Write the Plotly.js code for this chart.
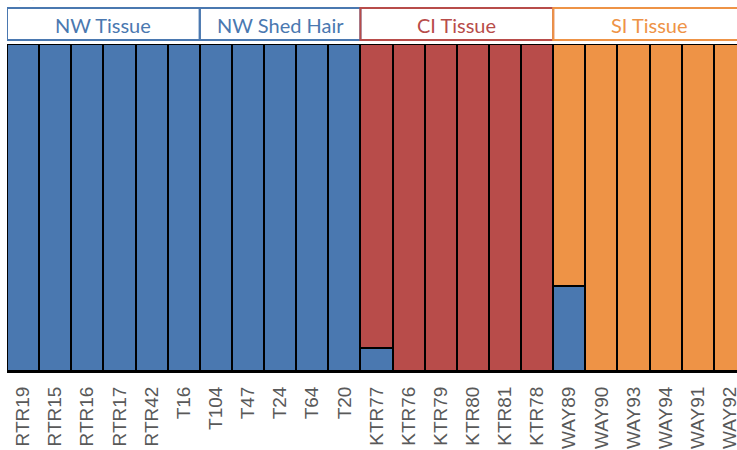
<!DOCTYPE html>
<html><head><meta charset="utf-8">
<script src="https://cdn.plot.ly/plotly-3.0.1.min.js"></script>
<style>html,body{margin:0;padding:0;background:#fff;}#chart{width:737px;height:450px;}</style>
</head><body><div id="chart"></div>
<script>
// Sample (individual) labels
const samples = ["RTR19","RTR15","RTR16","RTR17","RTR42","T16","T104","T47","T24","T64","T20",
  "KTR77","KTR76","KTR79","KTR80","KTR81","KTR78",
  "WAY89","WAY90","WAY93","WAY94","WAY91","WAY92"];
// Cluster membership proportions (null = absent)
const clusterBlue   = [1,1,1,1,1,1,1,1,1,1,1, 0.07,null,null,null,null,null, 0.26,null,null,null,null,null];
const clusterRed    = [null,null,null,null,null,null,null,null,null,null,null, 0.93,1,1,1,1,1, null,null,null,null,null,null];
const clusterOrange = [null,null,null,null,null,null,null,null,null,null,null, null,null,null,null,null,null, 0.74,1,1,1,1,1];
// Groups: name, first index, last index
const groupNames  = ["NW Tissue","NW Shed Hair","CI Tissue","SI Tissue"];
const groupStart  = [0,6,11,17];
const groupEnd    = [5,10,16,22];

const BLUE = "#4a78b0", RED = "#b84c4a", ORANGE = "#ee9346";
const groupColors = [BLUE, BLUE, RED, ORANGE];

const idx = samples.map((_, i) => i);
const mk = (y, c, n) => ({type:"bar", x:idx, y:y, name:n, width:1,
  marker:{color:c, line:{color:"#000", width:2}}, hoverinfo:"skip"});
const data = [mk(clusterBlue, BLUE, "K1"), mk(clusterRed, RED, "K2"), mk(clusterOrange, ORANGE, "K3")];

const H = 450, T = 44, B = 79, PH = H - T - B;
const py = (pix) => (H - B - pix) / PH;

const shapes = [], annotations = [];
groupNames.forEach((g, i) => {
  shapes.push({type:"rect", xref:"x", yref:"paper",
    x0: groupStart[i] - 0.5, x1: groupEnd[i] + 0.5, y0: py(40), y1: py(8),
    line:{color: groupColors[i], width:2}, fillcolor:"rgba(0,0,0,0)"});
  annotations.push({xref:"x", yref:"paper", x:(groupStart[i] + groupEnd[i]) / 2, y: py(25),
    text: g, showarrow:false, xanchor:"center", yanchor:"middle",
    font:{family:"Lato, 'Open Sans', sans-serif", size:20, color: groupColors[i]}});
});
annotations.push({xref:"paper", yref:"paper", x:0.01, y:py(-11), text:"<b>(a)</b>", showarrow:false,
  xanchor:"left", yanchor:"middle", font:{family:"Lato, sans-serif", size:20, color:"#000"}});

const layout = {
  width:737, height:450,
  margin:{l:7, r:0, t:T, b:B, pad:0},
  barmode:"stack", bargap:0, showlegend:false,
  paper_bgcolor:"#fff", plot_bgcolor:"#fff",
  xaxis:{range:[-0.5, 22.22], tickmode:"array", tickvals:idx, ticktext:samples,
    tickangle:-90, showgrid:false, zeroline:false, showline:true, linecolor:"#000", linewidth:2,
    ticks:"", ticklabelstandoff:6, ticklabeloverflow:"allow",
    tickfont:{family:"'Liberation Sans', Arial, sans-serif", size:19, color:"#595959"}},
  yaxis:{range:[0,1], showgrid:false, zeroline:false, showticklabels:false, showline:false, ticks:"", fixedrange:true},
  shapes:shapes, annotations:annotations
};
Plotly.newPlot("chart", data, layout, {staticPlot:true, displayModeBar:false});
</script></body></html>
